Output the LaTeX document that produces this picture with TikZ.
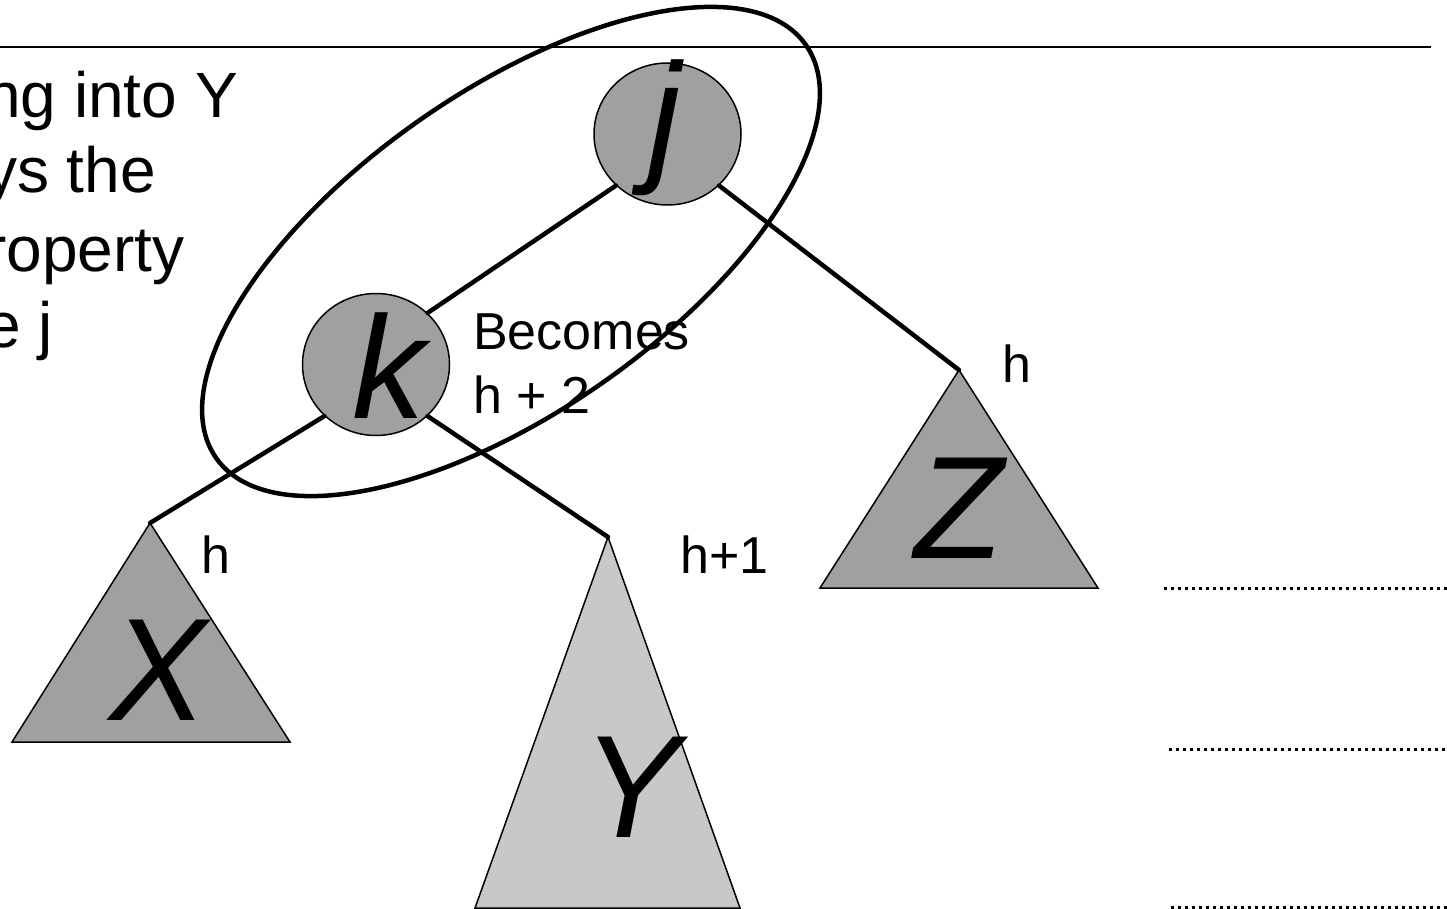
\documentclass[tikz,border=0pt]{standalone}
\usepackage{fontspec}
\setmainfont{Liberation Sans}
\usetikzlibrary{shapes.geometric}
\definecolor{nodegray}{RGB}{160,160,160}
\definecolor{lightgray2}{RGB}{200,200,200}
\tikzset{
  treenode/.style={draw=black, line width=1.5pt, fill=nodegray, ellipse,
    minimum width=147pt, minimum height=142pt, inner sep=0pt},
  link/.style={line width=4.5pt, line cap=round},
  tri/.style={draw=black, line width=1.5pt, line join=miter},
  bigletter/.style={anchor=base, inner sep=0pt, font=\fontsize{146}{146}\selectfont\itshape},
  sidetext/.style={anchor=base west, inner sep=0pt, font=\fontsize{64}{76}\selectfont},
  smalltext/.style={anchor=base west, inner sep=0pt, font=\fontsize{52}{64}\selectfont},
  ring/.style={draw=black, line width=4.5pt, ellipse, inner sep=0pt},
  dotline/.style={line width=3pt, dash pattern=on 3pt off 4pt}
}
\begin{document}
\begin{tikzpicture}[x=1pt,y=-1pt]
\useasboundingbox (0,0) rectangle (1447,909);
\clip (0,0) rectangle (1447,909);

% coordinates
\coordinate (tl) at (0,47);
\coordinate (tr) at (1431,47);
\coordinate (xa) at (150,523);
\coordinate (xl) at (12,742);
\coordinate (xr) at (290,742);
\coordinate (ya) at (608,537);
\coordinate (yl) at (475,908);
\coordinate (yr) at (740,908);
\coordinate (za) at (959,370);
\coordinate (zl) at (820,588);
\coordinate (zr) at (1098,588);
\coordinate (d1a) at (1164,588);
\coordinate (d1b) at (1447,588);
\coordinate (d2a) at (1169,749);
\coordinate (d2b) at (1447,749);
\coordinate (d3a) at (1171,907);
\coordinate (d3b) at (1447,907);

% top rule
\draw[line width=2pt] (tl) -- (tr);

% side text (clipped at the left edge, as in the reference)
\node[sidetext] (s1) at (-15,118) {ng into Y};
\node[sidetext] (s2) at (-15,193) {ys the};
\node[sidetext] (s3) at (-15,271) {roperty};
\node[sidetext] (s4) at (-15,347) {e j};

% subtrees
\draw[tri, fill=nodegray] (xa) -- (xl) -- (xr) -- cycle;
\draw[tri, fill=lightgray2] (ya) -- (yl) -- (yr) -- cycle;
\draw[tri, fill=nodegray] (za) -- (zl) -- (zr) -- cycle;

% tree nodes
\node[treenode] (j) at (667.5,134) {};
\node[treenode] (k) at (376,364.5) {};

% edges
\draw[link] (j.225) -- (k.45);
\draw[link] (j.-45) -- (za);
\draw[link] (k.225) -- (xa);
\draw[link] (k.-45) -- (ya);

% letters
\node[bigletter] (jl) at (665,166) {j};
\node[bigletter] (kl) at (389,418) {k};
\node[bigletter] (xlbl) at (158,720) {X};
\node[bigletter] (ylbl) at (631,837) {Y};
\node[bigletter] (zlbl) at (959,558) {Z};

% labels
\node[smalltext] (hz) at (1002,382) {h};
\node[smalltext] (hx) at (201,573) {h};
\node[smalltext] (hy) at (680,573) {h+1};
\node[smalltext] (b1) at (473,349) {Becomes};
\node[smalltext] (b2) at (473,413) {h + 2};

% dotted level lines
\draw[dotline] (d1a) -- (d1b);
\draw[dotline] (d2a) -- (d2b);
\draw[dotline] (d3a) -- (d3b);

% enclosing ellipse
\node[ring, minimum width=720pt, minimum height=320pt, rotate=35] (ring) at (511,251.5) {};
\end{tikzpicture}
\end{document}
